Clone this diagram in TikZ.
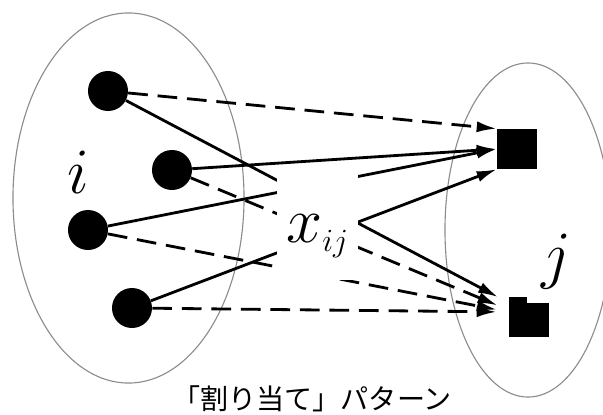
\documentclass[tikz,border=0pt]{standalone}
\usepackage{fix-cm}
\usepackage{fontspec}
\setmainfont{Liberation Serif}
\newfontfamily\jpfont{Noto Sans CJK JP}
\usetikzlibrary{arrows.meta}

\begin{document}
\begin{tikzpicture}[x=0.025cm,y=-0.025cm,
  dot/.style={circle,fill=black,minimum size=1cm,inner sep=0},
  sq/.style={rectangle,fill=black,inner sep=0},
  set/.style={draw=black!45,line width=0.8pt},
  assign/.style={line width=2pt,-{Latex[length=5mm,width=2.8mm]}},
  noassign/.style={assign,dash pattern=on 14pt off 7pt},
  lbl/.style={inner sep=0,font=\fontsize{46}{46}\selectfont}]
\useasboundingbox (0,0) rectangle (603,414);
\draw[set] (128.5,198) ellipse [x radius=2.8875cm,y radius=4.625cm];
\draw[set] (528,230) ellipse [x radius=2.075cm,y radius=4.175cm];

\node[dot] (i1) at (108,91) {};
\node[dot] (i2) at (172,170) {};
\node[dot] (i3) at (88,230) {};
\node[dot] (i4) at (132,308) {};
\node[sq,minimum width=1cm,minimum height=1cm] (j1) at (517,149) {};
\node[sq,minimum width=1cm,minimum height=0.85cm] (j2) at (529,320) {};
\fill (j2.north west) rectangle ++(18,-6);

\draw[noassign] (i1) -- (j1.north west);
\draw[assign,shorten >=0.3cm] (i1) -- (j2.north west);
\draw[assign] (i2) -- (j1.west);
\draw[noassign,shorten >=0.3cm] (i2) -- ([yshift=0.25cm]j2.west);
\draw[assign] (i3) -- (j1.west);
\draw[noassign,shorten >=0.3cm] (i3) -- ([yshift=0.2cm]j2.west);
\draw[assign] (i4) -- (j1.south west);
\draw[noassign,shorten >=0.3cm] (i4) -- ([yshift=0.2cm]j2.west);

\node[lbl,anchor=base,fill=white,text height=1.85cm,text depth=0.95cm,
  minimum width=2.025cm] (xij) at (317.5,242) {$x_{\scriptscriptstyle ij}$};
\node[lbl] (li) at (78,172) {$i$};
\node[lbl] (lj) at (556,262) {$j$};
\node[font=\jpfont\fontsize{20}{20}\selectfont] (cap) at (312,399) {「割り当て」パターン};
\end{tikzpicture}
\end{document}
